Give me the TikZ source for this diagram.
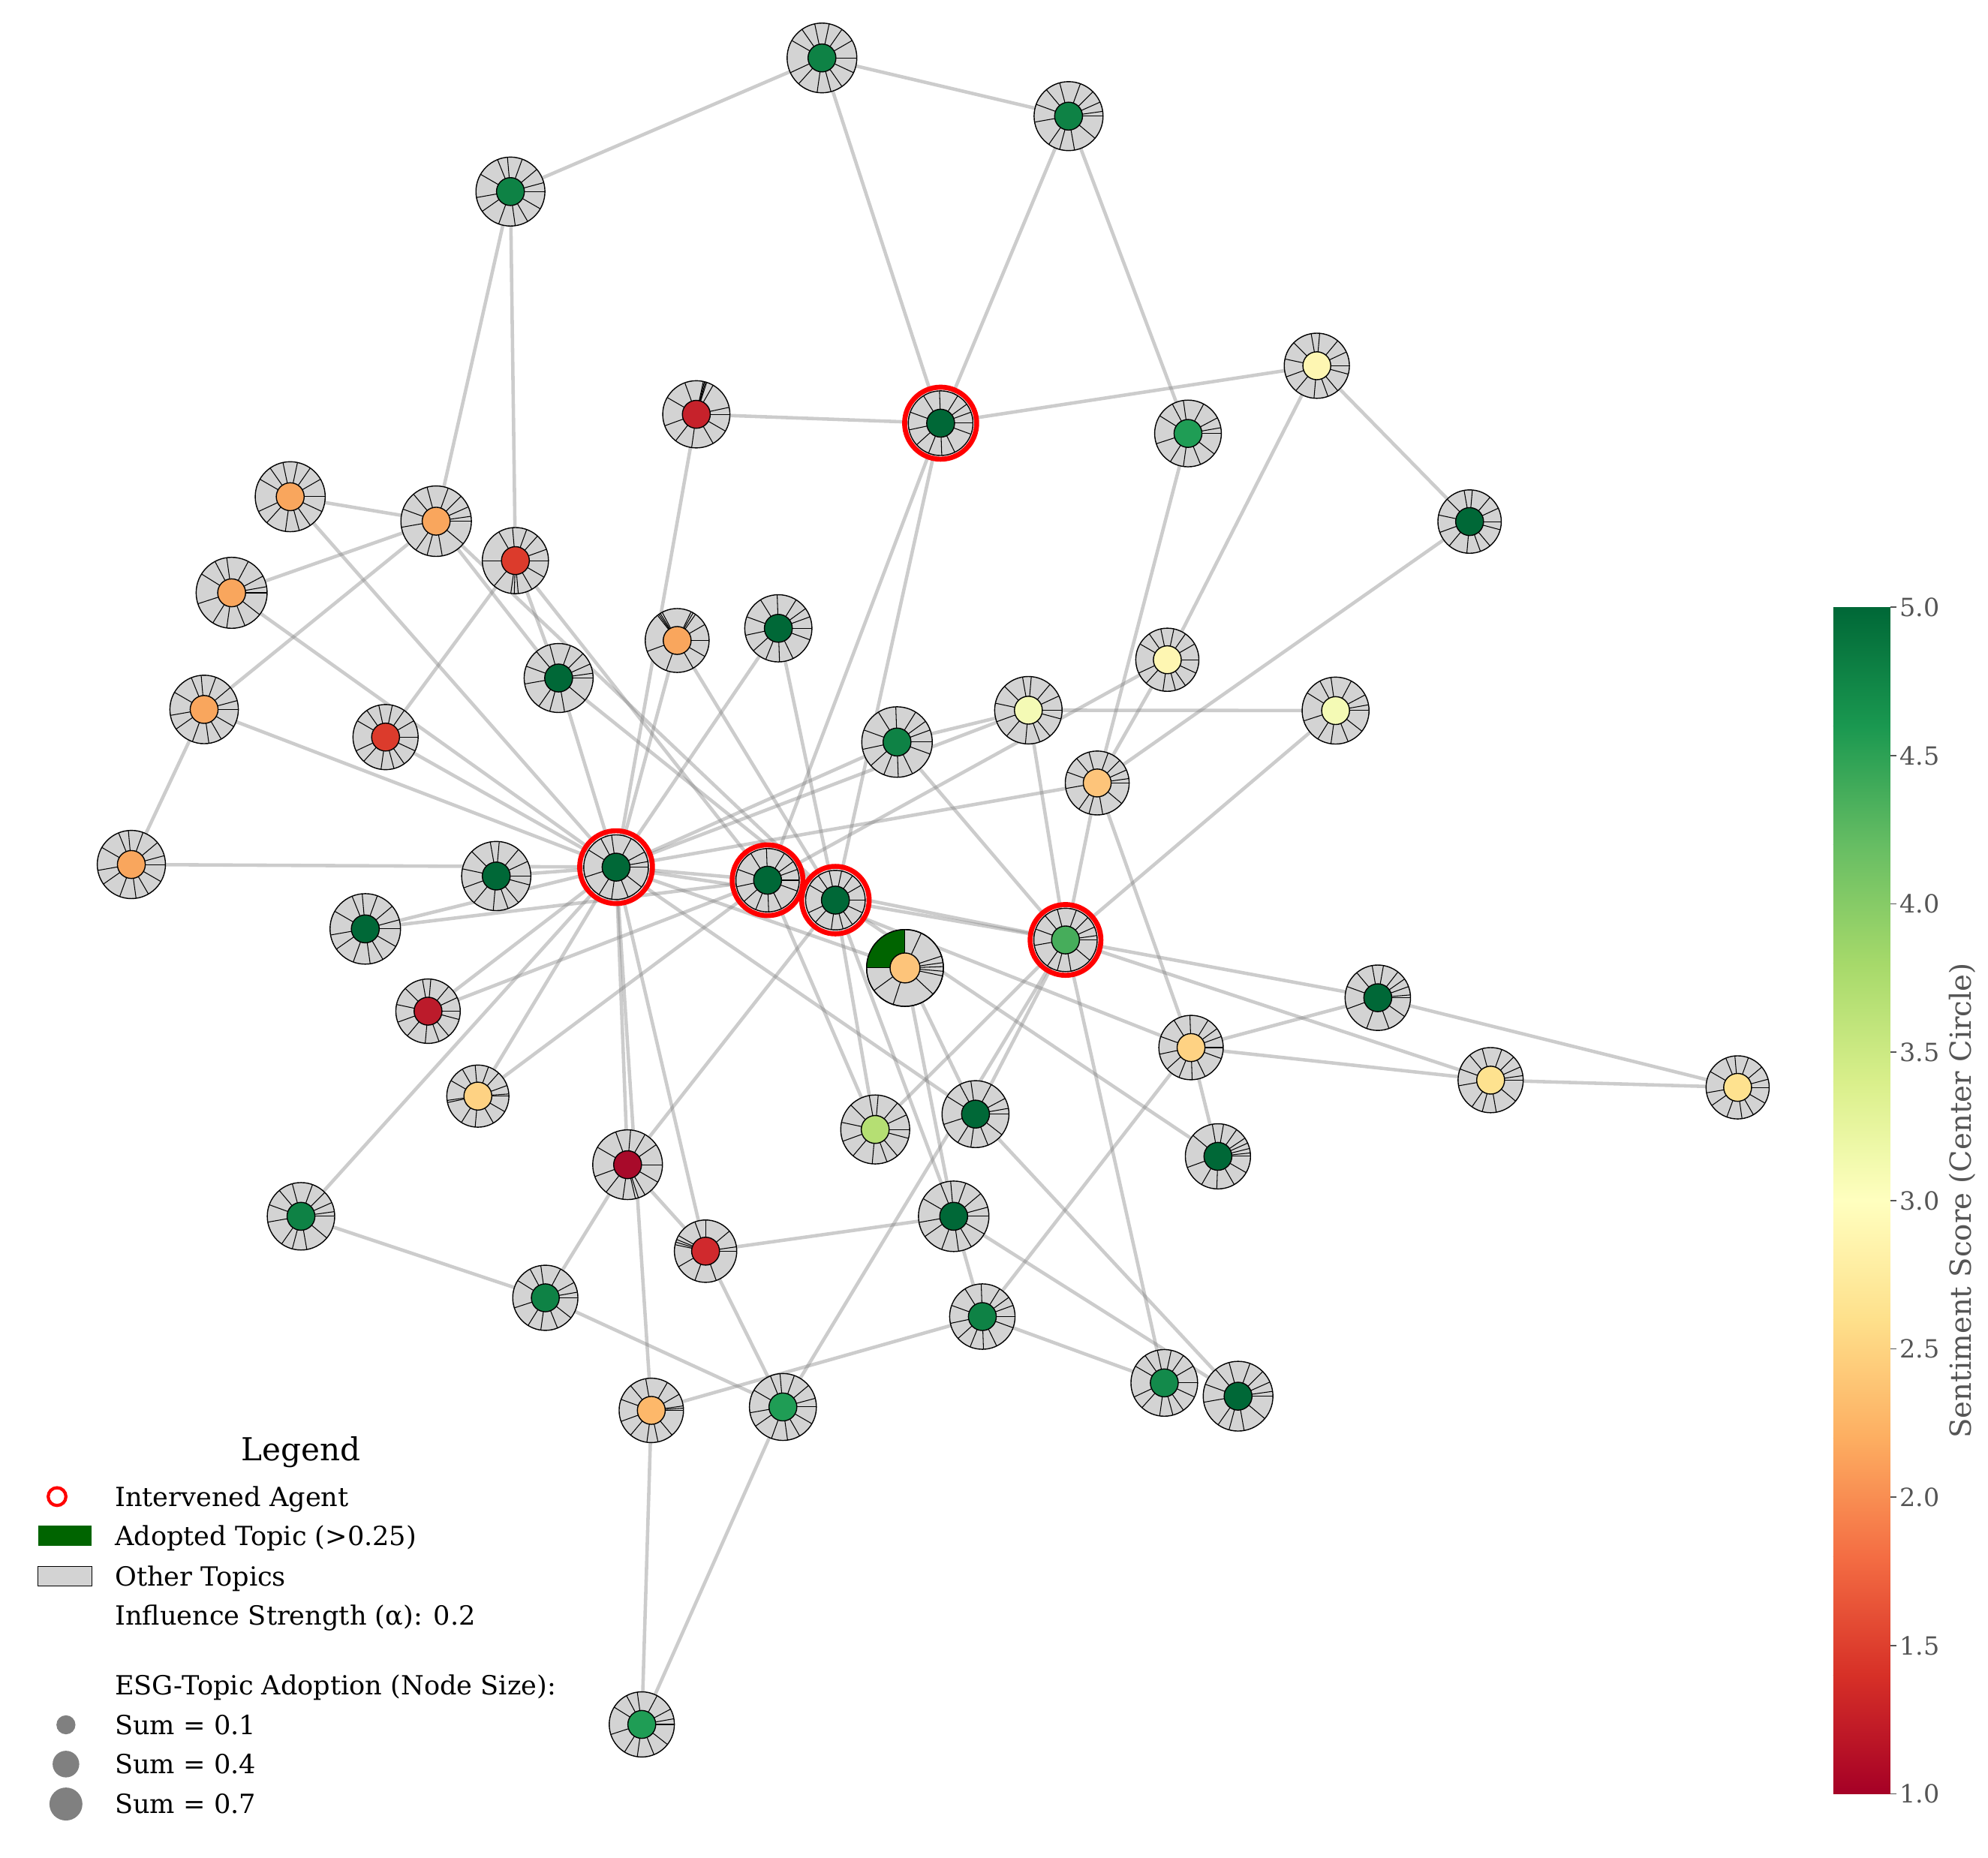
\documentclass[tikz,border=0pt]{standalone}
\usepackage{fontspec}
\setmainfont{DejaVu Serif}
\pgfdeclarelayer{edges}
\pgfsetlayers{edges,main}
\definecolor{pie}{HTML}{D3D3D3}
\definecolor{adopt}{HTML}{006400}
\definecolor{cG5}{HTML}{006837}
\definecolor{cG48}{HTML}{0E8245}
\definecolor{cG47}{HTML}{138A4B}
\definecolor{cG46}{HTML}{1F9D55}
\definecolor{cG43}{HTML}{46AD5B}
\definecolor{cG37}{HTML}{B5DF73}
\definecolor{cY31}{HTML}{F4FAB5}
\definecolor{cY29}{HTML}{FEF6B2}
\definecolor{cY27}{HTML}{FEE28F}
\definecolor{cO26}{HTML}{FED283}
\definecolor{cO24}{HTML}{FDC47A}
\definecolor{cO23}{HTML}{FDB86A}
\definecolor{cO21}{HTML}{F9A65D}
\definecolor{cR15}{HTML}{DC3B2C}
\definecolor{cR14}{HTML}{D0292D}
\definecolor{cR13}{HTML}{C6222B}
\definecolor{cR12}{HTML}{BC1B2B}
\definecolor{cR10}{HTML}{A80A2A}
\definecolor{cbgray}{HTML}{555555}
\definecolor{rg0}{HTML}{A50026}
\definecolor{rg1}{HTML}{D73027}
\definecolor{rg2}{HTML}{F46D43}
\definecolor{rg3}{HTML}{FDAE61}
\definecolor{rg4}{HTML}{FEE08B}
\definecolor{rg5}{HTML}{FFFFBF}
\definecolor{rg6}{HTML}{D9EF8B}
\definecolor{rg7}{HTML}{A6D96A}
\definecolor{rg8}{HTML}{66BD63}
\definecolor{rg9}{HTML}{1A9850}
\definecolor{rg10}{HTML}{006837}
\def\TA{0,30,55,78,102,125,150,205,228,262,285,305,335}
\def\TB{0,8,24,45,70,105,130,160,190,235,255,280,320}
\def\TC{0,15,40,70,95,112,150,190,215,250,278,300,330}
\def\TD{0,25,50,85,100,135,168,200,230,265,290,310,345}
\def\TE{0,10,28,62,98,118,148,198,238,262,292,322}
\def\TF{0,20,36,58,92,122,160,192,222,248,272,296,340}
% name, x, y (down), outer radius, centre colour, spoke list
\newcommand{\agent}[6]{%
  \node[pienode, minimum size={2*#4*0.016894cm}] (#1) at (#2,-#3) {};
  \foreach \a in #6 {\draw[spoke] (#2,-#3) -- ++(\a:#4);}
  \filldraw[core, fill=#5] (#2,-#3) circle (11);
}
\begin{document}
\begin{tikzpicture}[x=0.016894cm, y=0.016894cm,
  pienode/.style={circle, inner sep=0pt, outer sep=0pt, fill=pie, draw=black, line width=0.4pt},
  spoke/.style={line width=0.3pt, black},
  core/.style={draw=black, line width=0.4pt},
  ring/.style={draw=red, line width=1.9pt},
  link/.style={draw=black!50, draw opacity=0.4, line width=1.3pt},
  legtext/.style={anchor=west, inner sep=0pt, font=\fontsize{10}{12}\selectfont, text height=7.3pt, text depth=0pt},
  ticktext/.style={anchor=west, inner sep=0pt, font=\fontsize{9.5}{11}\selectfont, text=cbgray, text height=6.9pt, text depth=0pt}]
\useasboundingbox (0,0) rectangle (1568,-1465);

% ---------------- agents ----------------
\agent{n1}{648.3}{45.7}{27.5}{cG48}{\TA}
\agent{n2}{842.8}{91.6}{27.2}{cG48}{\TB}
\agent{n3}{402.6}{151.1}{27.2}{cG48}{\TC}
\agent{n4}{1038.6}{288.5}{25.7}{cY29}{\TD}
\agent{n5}{549.2}{326.8}{26.5}{cR13}{{0,12,60,72,74,76,78,110,150,200,232,262,300,330}}
\agent{n6}{741.9}{333.8}{25.5}{cG5}{\TF}
\agent{n7}{937.0}{341.9}{26.3}{cG46}{\TE}
\agent{n8}{228.9}{391.8}{27.6}{cO21}{\TA}
\agent{n9}{344.0}{411.1}{27.8}{cO21}{\TB}
\agent{n10}{406.5}{442.2}{26.1}{cR15}{{0,20,48,70,95,120,180,230,262,268,275,300,330}}
\agent{n11}{1159.1}{411.4}{25.0}{cG5}{\TD}
\agent{n12}{182.7}{467.6}{28.0}{cO21}{\TE}
\agent{n13}{534.1}{505.2}{25.2}{cO21}{{0,30,55,60,64,118,122,125,128,200,250,300,330}}
\agent{n14}{613.9}{495.6}{26.5}{cG5}{\TF}
\agent{n15}{920.7}{520.4}{24.9}{cY29}{\TA}
\agent{n16}{440.6}{534.8}{27.2}{cG5}{\TB}
\agent{n17}{161.0}{559.6}{27.0}{cO21}{\TC}
\agent{n18}{811.1}{560.2}{26.6}{cY31}{\TD}
\agent{n19}{1053.4}{560.5}{26.4}{cY31}{\TE}
\agent{n20}{707.5}{585.3}{27.8}{cG48}{\TF}
\agent{n21}{304.1}{581.4}{25.7}{cR15}{\TA}
\agent{n22}{865.4}{617.6}{25.2}{cO24}{\TB}
\agent{n23}{103.6}{681.9}{26.9}{cO21}{\TC}
\agent{n24}{391.4}{691.0}{27.3}{cG5}{\TD}
\agent{n25}{485.9}{684.0}{25.5}{cG5}{\TE}
\agent{n26}{605.4}{694.3}{25.0}{cG5}{\TF}
\agent{n27}{658.9}{710.0}{23.5}{cG5}{\TA}
\agent{n28}{840.4}{741.4}{25.0}{cG43}{\TB}
\agent{n29}{288.1}{732.7}{27.8}{cG5}{\TC}
\agent{n31}{337.6}{797.6}{25.4}{cR12}{\TD}
\agent{n32}{1086.7}{787.0}{25.8}{cG5}{{0,5,20,35,52,80,100,130,160,200,250,290,325}}
\agent{n33}{939.4}{826.3}{25.4}{cO26}{\TF}
\agent{n34}{376.9}{864.6}{24.5}{cO26}{{0,4,20,48,70,95,120,150,188,192,238,265,300,330}}
\agent{n35}{1175.7}{852.0}{25.7}{cY27}{\TB}
\agent{n36}{1370.5}{857.7}{24.9}{cY27}{\TC}
\agent{n37}{690.3}{890.9}{27.2}{cG37}{\TD}
\agent{n38}{769.4}{878.8}{26.4}{cG5}{\TE}
\agent{n39}{495.0}{918.7}{27.5}{cR10}{{0,35,60,85,110,150,200,232,262,283,288,300,330}}
\agent{n40}{960.6}{912.1}{25.7}{cG5}{{0,6,14,24,34,55,80,100,140,200,240,268,300,330}}
\agent{n41}{237.4}{959.4}{26.6}{cG48}{\TB}
\agent{n42}{752.2}{959.4}{27.8}{cG5}{\TC}
\agent{n43}{556.5}{986.9}{24.6}{cR14}{{0,8,40,90,110,150,158,163,168,210,250,290}}
\agent{n44}{430.1}{1023.7}{25.7}{cG48}{\TE}
\agent{n45}{774.8}{1038.5}{25.8}{cG48}{\TF}
\agent{n46}{918.3}{1090.8}{26.3}{cG47}{\TA}
\agent{n47}{976.5}{1101.3}{27.5}{cG5}{\TB}
\agent{n48}{617.5}{1109.8}{26.4}{cG46}{\TC}
\agent{n49}{513.7}{1112.5}{25.4}{cO23}{{0,4,8,30,60,100,130,160,200,230,262,282,310}}
\agent{n50}{506.2}{1360.2}{25.7}{cG46}{\TE}

% agent with the adopted topic
\node[pienode, minimum size={2*30.3*0.016894cm}] (n30) at (713.8,-763.5) {};
\fill[adopt] (713.8,-763.5) -- ++(90:30.3) arc[start angle=90, end angle=180, radius=30.3] -- cycle;
\draw[line width=0.4pt] (713.8,-763.5) circle (30.3);
\foreach \a in {90,180,216,252,317,348,355,2,8,18,65} {\draw[spoke] (713.8,-763.5) -- ++(\a:30.3);}
\filldraw[core, fill=cO24] (713.8,-763.5) circle (11.8);

% intervened agents
\draw[ring] (n6.center) circle (28.4);
\draw[ring] (n25.center) circle (28.7);
\draw[ring] (n26.center) circle (27.9);
\draw[ring] (n27.center) circle (26.6);
\draw[ring] (n28.center) circle (27.9);

% ---------------- connections ----------------
\begin{pgfonlayer}{edges}
\foreach \ea/\eb in {1/3, 1/2, 1/6, 2/6, 2/7, 3/9, 3/10, 5/6, 4/6, 4/11, 4/15, 15/22, 7/22, 11/22,
  5/25, 13/25, 13/27, 14/25, 14/27, 6/26, 6/27,
  8/9, 8/25, 9/12, 12/25, 9/17, 17/23, 17/25, 23/25, 10/21, 21/25, 24/25,
  29/25, 29/26, 31/25, 31/26, 34/25, 34/26, 41/25, 25/39, 25/49, 25/43,
  39/27, 39/44, 41/44, 44/48, 49/45, 43/48, 48/50, 48/28, 49/50, 42/43, 39/43,
  42/45, 42/47, 45/46, 45/33, 28/46, 38/47, 33/40, 27/40, 28/38, 30/38, 30/42,
  10/16, 16/25, 9/16, 16/27, 10/26, 9/27,
  20/25, 18/20, 20/28, 18/25, 15/26, 18/19, 19/28, 22/25, 22/28, 22/33, 18/28,
  28/32, 28/35, 32/33, 33/35, 35/36, 32/36,
  25/26, 25/27, 26/28, 27/28, 26/37, 27/37, 27/42, 28/37, 26/33, 25/30, 25/38}
  {\draw[link] (n\ea) -- (n\eb);}
\end{pgfonlayer}

% ---------------- colour bar ----------------
\foreach \i [evaluate=\i as \j using int(\i+1)] in {0,...,9}
  {\shade[bottom color=rg\i, top color=rg\j] (1446,{-1415+93.6*\i}) rectangle (1491,{-1415+93.6*(\i+1)});}
\foreach \k/\lab in {0/5.0,1/4.5,2/4.0,3/3.5,4/3.0,5/2.5,6/2.0,7/1.5,8/1.0}
  {\draw[cbgray, line width=0.5pt] (1491,{-479-117*\k}) -- ++(5,0);
   \node[ticktext] (tick\k) at (1498,{-479-117*\k}) {\lab};}
\node[rotate=90, text=cbgray, font=\fontsize{11}{13}\selectfont] (cblabel) at (1548,-947) {Sentiment Score (Center Circle)};

% ---------------- legend ----------------
\node[font=\fontsize{12}{14}\selectfont] (legtitle) at (237.4,-1145.7) {Legend};
\draw[red, line width=1.2pt] (45,-1180.5) circle (7);
\fill[adopt] (30,-1219.5) rectangle (72.5,-1203.5);
\filldraw[fill=pie, draw=black, line width=0.4pt] (30,-1251) rectangle (72.5,-1235.5);
\fill[black!50] (52,-1360.5) circle (7.5);
\fill[black!50] (52,-1391.5) circle (10.5);
\fill[black!50] (52,-1423) circle (13);
\node[legtext] (lg1) at (90.3,-1180.5) {Intervened Agent};
\node[legtext] (lg2) at (90.3,-1211.6) {Adopted Topic (>0.25)};
\node[legtext] (lg3) at (90.3,-1243.3) {Other Topics};
\node[legtext] (lg4) at (90.3,-1274.1) {Influence Strength (α): 0.2};
\node[legtext] (lg5) at (90.3,-1329.4) {ESG-Topic Adoption (Node Size):};
\node[legtext] (lg6) at (90.3,-1360.5) {Sum = 0.1};
\node[legtext] (lg7) at (90.3,-1391.5) {Sum = 0.4};
\node[legtext] (lg8) at (90.3,-1423) {Sum = 0.7};
\end{tikzpicture}
\end{document}
